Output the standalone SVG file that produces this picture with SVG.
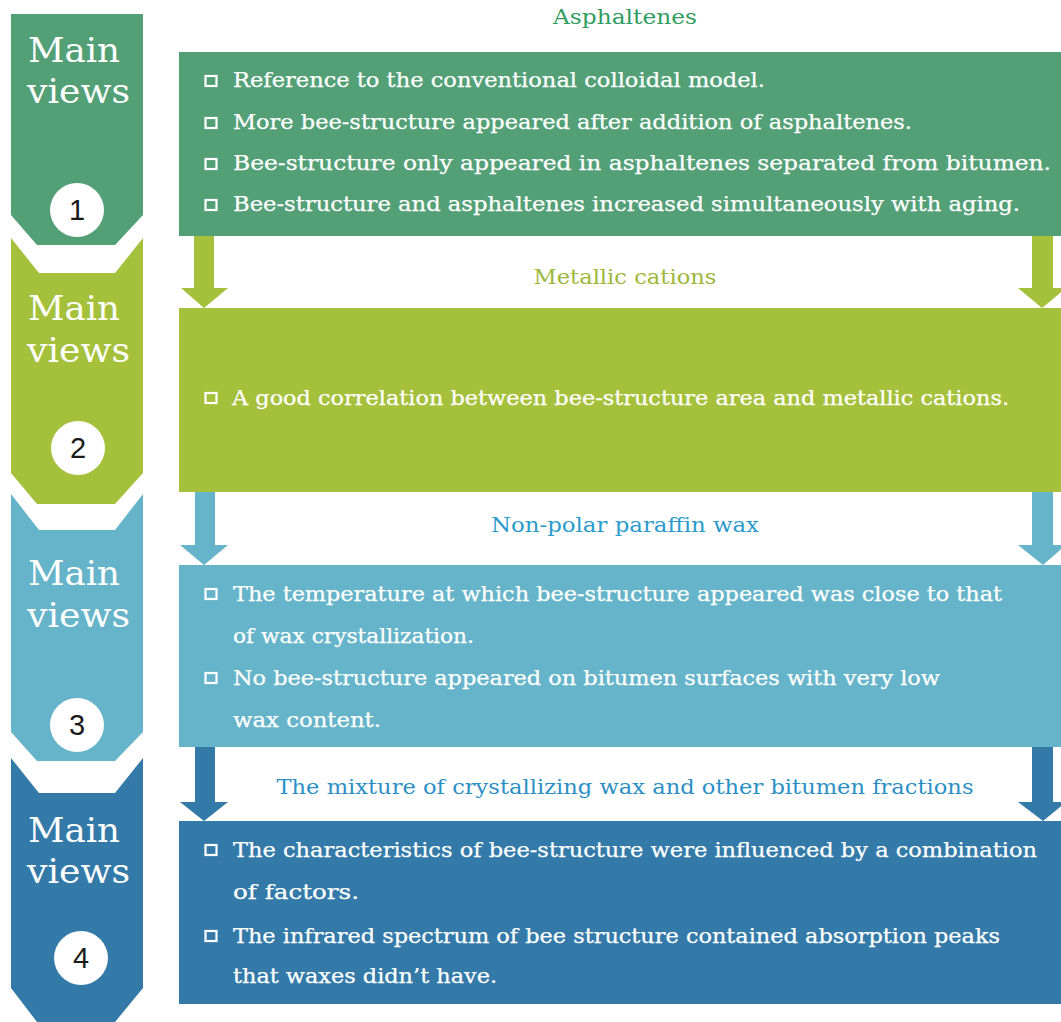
<svg xmlns="http://www.w3.org/2000/svg" width="1061" height="1022" viewBox="0 0 1061 1022">
<style>
.mv{font-family:"DejaVu Serif","Liberation Serif",serif;font-size:33px;fill:#fff}
.num{font-family:"Liberation Sans",Arial,sans-serif;font-size:29px;fill:#1a1a1a;text-anchor:middle}
.body{font-family:"DejaVu Serif","Liberation Serif",serif;font-size:20px;fill:#fff;stroke:#fff;stroke-width:0.25}
.ttl{font-family:"DejaVu Serif","Liberation Serif",serif;font-size:20px;text-anchor:middle}
.blt{fill:none;stroke:#fff;stroke-width:2.2}
.c1{fill:#53a077}.c2{fill:#a5c13c}.c3{fill:#66b4c9}.c4{fill:#337aa9}
</style>
<rect width="1061" height="1022" fill="#fff"/>
<g id="chevron1">
<path class="c1" d="M11,14 H143 V215 L115,245 H37 L11,215 Z"/>
<text class="mv" x="28" y="62" textLength="92" lengthAdjust="spacingAndGlyphs">Main</text>
<text class="mv" x="27" y="103" textLength="103" lengthAdjust="spacingAndGlyphs">views</text>
<circle cx="77" cy="210" r="27" fill="#fff"/>
<text class="num" x="77" y="220">1</text>
</g>
<g id="chevron2">
<path class="c2" d="M11,238 L39,273 H115 L143,238 V473 L115,504 H37 L11,473 Z"/>
<text class="mv" x="28" y="320" textLength="92" lengthAdjust="spacingAndGlyphs">Main</text>
<text class="mv" x="27" y="362" textLength="103" lengthAdjust="spacingAndGlyphs">views</text>
<circle cx="78" cy="448" r="27" fill="#fff"/>
<text class="num" x="78" y="458">2</text>
</g>
<g id="chevron3">
<path class="c3" d="M11,494 L39,530 H115 L143,494 V732 L115,761 H37 L11,732 Z"/>
<text class="mv" x="28" y="585" textLength="92" lengthAdjust="spacingAndGlyphs">Main</text>
<text class="mv" x="27" y="627" textLength="103" lengthAdjust="spacingAndGlyphs">views</text>
<circle cx="77" cy="725" r="27" fill="#fff"/>
<text class="num" x="77" y="735">3</text>
</g>
<g id="chevron4">
<path class="c4" d="M11,758 L39,793 H115 L143,758 V988 L115,1022 H37 L11,988 Z"/>
<text class="mv" x="28" y="842" textLength="92" lengthAdjust="spacingAndGlyphs">Main</text>
<text class="mv" x="27" y="883" textLength="103" lengthAdjust="spacingAndGlyphs">views</text>
<circle cx="81" cy="958" r="27" fill="#fff"/>
<text class="num" x="81" y="968">4</text>
</g>
<g id="connectors">
<path class="c2" d="M194,236 H214 V288 H228 L204,308 L181,288 H194 Z"/>
<path class="c2" d="M1032,236 H1053 V288 H1066 L1042,308 L1018,288 H1032 Z"/>
<path class="c3" d="M195,492 H215 V545 H228 L204,565 L180,545 H195 Z"/>
<path class="c3" d="M1032,492 H1053 V545 H1066 L1043,565 L1018,545 H1032 Z"/>
<path class="c4" d="M195,747 H215 V802 H228 L204,821 L180,802 H195 Z"/>
<path class="c4" d="M1032,747 H1053 V802 H1066 L1043,821 L1018,802 H1032 Z"/>
</g>
<g id="asphaltenes">
<text class="ttl" x="625" y="24" fill="#2f9c5e" textLength="144" lengthAdjust="spacingAndGlyphs">Asphaltenes</text>
<rect class="c1" x="179" y="52" width="882" height="184"/>
<rect class="blt" x="205.5" y="76" width="11" height="10"/>
<text class="body" x="233" y="87" textLength="532" lengthAdjust="spacingAndGlyphs">Reference to the conventional colloidal model.</text>
<rect class="blt" x="205.5" y="118" width="11" height="10"/>
<text class="body" x="233" y="129" textLength="679" lengthAdjust="spacingAndGlyphs">More bee-structure appeared after addition of asphaltenes.</text>
<rect class="blt" x="205.5" y="159" width="11" height="10"/>
<text class="body" x="233" y="170" textLength="818" lengthAdjust="spacingAndGlyphs">Bee-structure only appeared in asphaltenes separated from bitumen.</text>
<rect class="blt" x="205.5" y="200" width="11" height="10"/>
<text class="body" x="233" y="211" textLength="787" lengthAdjust="spacingAndGlyphs">Bee-structure and asphaltenes increased simultaneously with aging.</text>
</g>
<g id="metallic-cations">
<text class="ttl" x="625" y="284" fill="#9db73a" textLength="183" lengthAdjust="spacingAndGlyphs">Metallic cations</text>
<rect class="c2" x="179" y="308" width="882" height="184"/>
<rect class="blt" x="205.5" y="393" width="11" height="10"/>
<text class="body" x="232" y="405" textLength="777" lengthAdjust="spacingAndGlyphs">A good correlation between bee-structure area and metallic cations.</text>
</g>
<g id="paraffin-wax">
<text class="ttl" x="625" y="532" fill="#2a9bcb" textLength="268" lengthAdjust="spacingAndGlyphs">Non-polar paraffin wax</text>
<rect class="c3" x="179" y="565" width="882" height="182"/>
<rect class="blt" x="205.5" y="589" width="11" height="10"/>
<text class="body" x="233" y="601" textLength="769" lengthAdjust="spacingAndGlyphs">The temperature at which bee-structure appeared was close to that</text>
<text class="body" x="233" y="643" textLength="241" lengthAdjust="spacingAndGlyphs">of wax crystallization.</text>
<rect class="blt" x="205.5" y="673" width="11" height="10"/>
<text class="body" x="233" y="685" textLength="707" lengthAdjust="spacingAndGlyphs">No bee-structure appeared on bitumen surfaces with very low</text>
<text class="body" x="233" y="727" textLength="148" lengthAdjust="spacingAndGlyphs">wax content.</text>
</g>
<g id="mixture">
<text class="ttl" x="625" y="794" fill="#2b8fc5" textLength="697" lengthAdjust="spacingAndGlyphs">The mixture of crystallizing wax and other bitumen fractions</text>
<rect class="c4" x="179" y="821" width="882" height="183"/>
<rect class="blt" x="205.5" y="845" width="11" height="10"/>
<text class="body" x="233" y="857" textLength="804" lengthAdjust="spacingAndGlyphs">The characteristics of bee-structure were influenced by a combination</text>
<text class="body" x="233" y="899" textLength="126" lengthAdjust="spacingAndGlyphs">of factors.</text>
<rect class="blt" x="205.5" y="931" width="11" height="10"/>
<text class="body" x="233" y="943" textLength="767" lengthAdjust="spacingAndGlyphs">The infrared spectrum of bee structure contained absorption peaks</text>
<text class="body" x="233" y="983" textLength="264" lengthAdjust="spacingAndGlyphs">that waxes didn’t have.</text>
</g>
</svg>
